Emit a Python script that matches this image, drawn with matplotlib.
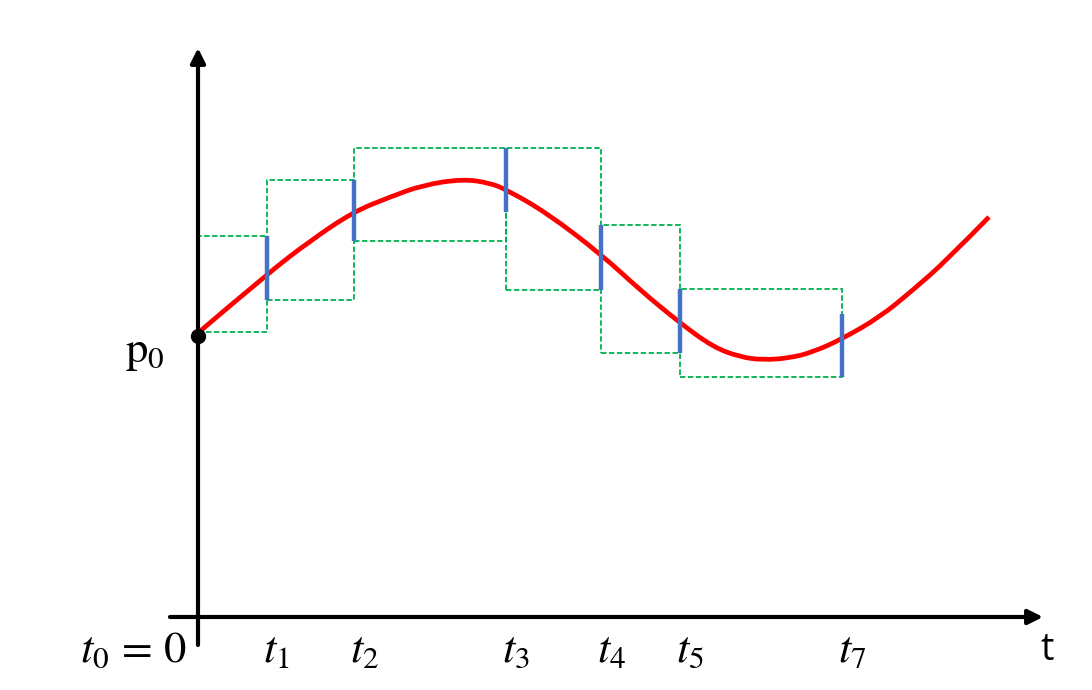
import matplotlib.pyplot as plt
from matplotlib.patches import Rectangle, FancyArrowPatch, PathPatch
from matplotlib.path import Path

plt.rcParams['mathtext.fontset'] = 'stix'

# tempos de amostragem e rótulos
t_vals = [0.69, 1.56, 3.08, 4.03, 4.82, 6.44]
t_labels = ['$t_1$', '$t_2$', '$t_3$', '$t_4$', '$t_5$', '$t_7$']

# intervalos (min, max) em cada tempo
p_low = [3.17, 3.76, 4.05, 3.27, 2.64, 2.40]
p_high = [3.81, 4.37, 4.69, 3.92, 3.28, 3.03]

p0 = 2.85

# curva vermelha
curve_t = [0.0, 0.69, 1.12, 1.55, 1.92, 2.25, 2.65, 2.92, 3.09, 3.49, 4.04,
           4.42, 4.82, 5.15, 5.42, 5.65, 5.92, 6.15, 6.44, 6.82, 7.15, 7.49, 7.91]
curve_p = [2.84, 3.43, 3.76, 4.05, 4.20, 4.32, 4.38, 4.34, 4.27, 4.04, 3.62,
           3.27, 2.94, 2.70, 2.60, 2.57, 2.59, 2.65, 2.78, 3.00, 3.27, 3.57, 4.00]

fig = plt.figure(figsize=(10.92, 6.90), dpi=100)
ax = fig.add_axes([0, 0, 1, 1])
ax.set_xlim(-1.98, 8.94)
ax.set_ylim(-0.73, 6.17)
ax.axis('off')

# eixos com setas
ax.add_patch(FancyArrowPatch((0, -0.28), (0, 5.69), arrowstyle='-|>',
                             mutation_scale=22, lw=3, color='black',
                             shrinkA=0, shrinkB=0, zorder=2.5))
ax.add_patch(FancyArrowPatch((-0.28, 0), (8.45, 0), arrowstyle='-|>',
                             mutation_scale=22, lw=3, color='black',
                             shrinkA=0, shrinkB=0, zorder=2.5))

# retângulos tracejados entre tempos consecutivos
t_prev = [0.0] + t_vals[:-1]
lo_prev = [p0] + p_low[:-1]
hi_prev = [p0] + p_high[:-1]
for i in range(len(t_vals)):
    lo = min(lo_prev[i], p_low[i])
    hi = max(hi_prev[i], p_high[i])
    ax.add_patch(Rectangle((t_prev[i], lo), t_vals[i] - t_prev[i], hi - lo,
                           fill=False, edgecolor='#00B050', lw=1.3,
                           linestyle=(0, (3, 1.4)), zorder=2))

# curva suavizada (bezier quadrática pelos pontos médios)
pts = list(zip(curve_t, curve_p))
verts = [pts[0]]
codes = [Path.MOVETO]
for i in range(1, len(pts) - 1):
    if i < len(pts) - 2:
        end = ((pts[i][0] + pts[i + 1][0]) / 2, (pts[i][1] + pts[i + 1][1]) / 2)
    else:
        end = pts[-1]
    verts += [pts[i], end]
    codes += [Path.CURVE3, Path.CURVE3]
ax.add_patch(PathPatch(Path(verts, codes), fill=False, edgecolor='#FF0000',
                       lw=3.4, zorder=3, capstyle='butt'))

ax.vlines(t_vals, p_low, p_high, colors='#4472C4', lw=3.2, zorder=4)

ax.plot([0], [p0 - 0.04], 'o', color='black', ms=10, zorder=5)

# rótulos
for t, lab in zip(t_vals, t_labels):
    ax.text(t - 0.04, -0.45, lab, fontsize=32, ha='left', va='baseline')
ax.text(-0.11, -0.45, r'$t_0\,=\,0$', fontsize=32, ha='right', va='baseline')
ax.text(-0.53, 2.55, r'$\mathrm{p}_0$', fontsize=32, ha='center', va='baseline')
ax.text(8.49, -0.43, 't', fontsize=27, family='Open Sans', ha='center',
        va='baseline')

plt.savefig('out.png', dpi=100)
